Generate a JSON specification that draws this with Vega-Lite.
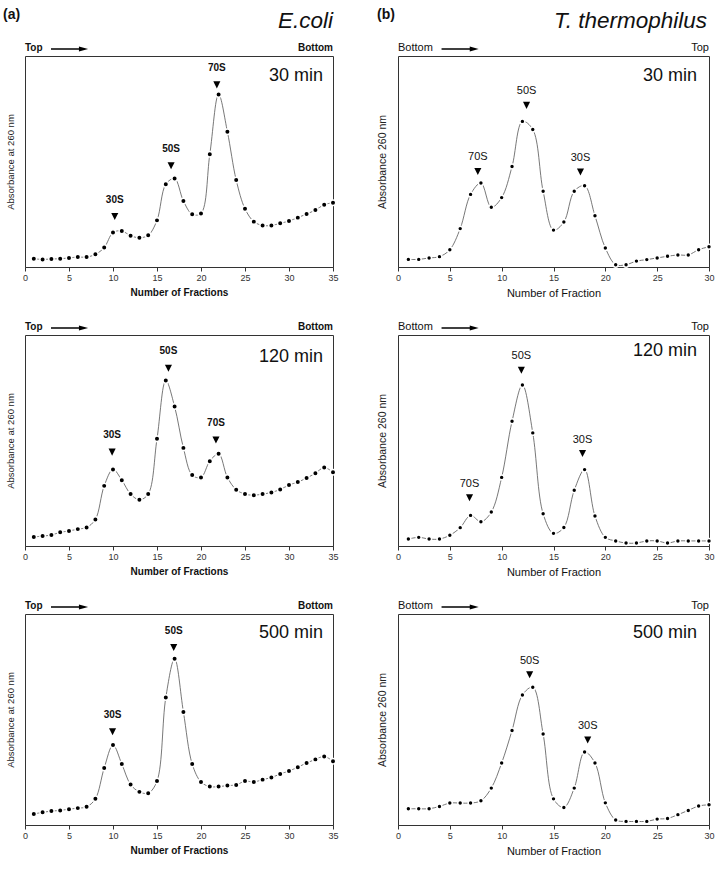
{
"$schema":"https://vega.github.io/schema/vega-lite/v6.json",
"padding":{"left":2,"top":7,"right":5,"bottom":5},
"config":{"font":"Liberation Sans","view":{"stroke":"#333","strokeWidth":1},
 "axisX":{"grid":false,"tickSize":4,"labelFontSize":9,"labelColor":"#333","labelPadding":2,"labelFlush":false,"domainColor":"#333","tickColor":"#333","titleColor":"#111","titlePadding":5},
 "axisY":{"grid":false,"labels":false,"ticks":false,"domain":false,"titleColor":"#222","titleFontWeight":"normal","titlePadding":10}},
"datasets":{
"profiles":[
{"panel":"a30","fraction":1,"abs":3.9},{"panel":"a30","fraction":2,"abs":3.6},{"panel":"a30","fraction":3,"abs":3.8},{"panel":"a30","fraction":4,"abs":3.9},{"panel":"a30","fraction":5,"abs":4.3},{"panel":"a30","fraction":6,"abs":4.7},{"panel":"a30","fraction":7,"abs":4.7},{"panel":"a30","fraction":8,"abs":6.0},{"panel":"a30","fraction":9,"abs":9.2},{"panel":"a30","fraction":10,"abs":16.3},{"panel":"a30","fraction":11,"abs":17.1},{"panel":"a30","fraction":12,"abs":14.8},{"panel":"a30","fraction":13,"abs":13.9},{"panel":"a30","fraction":14,"abs":15.0},{"panel":"a30","fraction":15,"abs":22.1},{"panel":"a30","fraction":16,"abs":39.2},{"panel":"a30","fraction":17,"abs":41.9},{"panel":"a30","fraction":18,"abs":31.3},{"panel":"a30","fraction":19,"abs":25.0},{"panel":"a30","fraction":20,"abs":25.4},{"panel":"a30","fraction":21,"abs":53.4},{"panel":"a30","fraction":22,"abs":81.8},{"panel":"a30","fraction":23,"abs":64.1},{"panel":"a30","fraction":24,"abs":41.2},{"panel":"a30","fraction":25,"abs":27.6},{"panel":"a30","fraction":26,"abs":21.5},{"panel":"a30","fraction":27,"abs":19.7},{"panel":"a30","fraction":28,"abs":19.7},{"panel":"a30","fraction":29,"abs":20.7},{"panel":"a30","fraction":30,"abs":21.8},{"panel":"a30","fraction":31,"abs":23.4},{"panel":"a30","fraction":32,"abs":25.1},{"panel":"a30","fraction":33,"abs":27.0},{"panel":"a30","fraction":34,"abs":29.5},{"panel":"a30","fraction":35,"abs":30.5},
{"panel":"b30","fraction":1,"abs":3.6},{"panel":"b30","fraction":2,"abs":3.6},{"panel":"b30","fraction":3,"abs":4.3},{"panel":"b30","fraction":4,"abs":4.9},{"panel":"b30","fraction":5,"abs":8.2},{"panel":"b30","fraction":6,"abs":18.2},{"panel":"b30","fraction":7,"abs":34.4},{"panel":"b30","fraction":8,"abs":39.8},{"panel":"b30","fraction":9,"abs":28.3},{"panel":"b30","fraction":10,"abs":32.9},{"panel":"b30","fraction":11,"abs":47.6},{"panel":"b30","fraction":12,"abs":69.0},{"panel":"b30","fraction":13,"abs":65.2},{"panel":"b30","fraction":14,"abs":35.9},{"panel":"b30","fraction":15,"abs":17.5},{"panel":"b30","fraction":16,"abs":21.3},{"panel":"b30","fraction":17,"abs":35.9},{"panel":"b30","fraction":18,"abs":38.5},{"panel":"b30","fraction":19,"abs":24.3},{"panel":"b30","fraction":20,"abs":9.0},{"panel":"b30","fraction":21,"abs":1.1},{"panel":"b30","fraction":22,"abs":1.1},{"panel":"b30","fraction":23,"abs":2.8},{"panel":"b30","fraction":24,"abs":3.5},{"panel":"b30","fraction":25,"abs":4.3},{"panel":"b30","fraction":26,"abs":5.1},{"panel":"b30","fraction":27,"abs":5.7},{"panel":"b30","fraction":28,"abs":5.7},{"panel":"b30","fraction":29,"abs":8.2},{"panel":"b30","fraction":30,"abs":9.6},
{"panel":"a120","fraction":1,"abs":4.3},{"panel":"a120","fraction":2,"abs":4.7},{"panel":"a120","fraction":3,"abs":5.2},{"panel":"a120","fraction":4,"abs":6.5},{"panel":"a120","fraction":5,"abs":7.1},{"panel":"a120","fraction":6,"abs":8.0},{"panel":"a120","fraction":7,"abs":8.8},{"panel":"a120","fraction":8,"abs":12.6},{"panel":"a120","fraction":9,"abs":28.5},{"panel":"a120","fraction":10,"abs":36.3},{"panel":"a120","fraction":11,"abs":31.2},{"panel":"a120","fraction":12,"abs":24.6},{"panel":"a120","fraction":13,"abs":21.9},{"panel":"a120","fraction":14,"abs":24.6},{"panel":"a120","fraction":15,"abs":50.8},{"panel":"a120","fraction":16,"abs":78.4},{"panel":"a120","fraction":17,"abs":66.1},{"panel":"a120","fraction":18,"abs":46.5},{"panel":"a120","fraction":19,"abs":33.6},{"panel":"a120","fraction":20,"abs":32.5},{"panel":"a120","fraction":21,"abs":40.2},{"panel":"a120","fraction":22,"abs":43.7},{"panel":"a120","fraction":23,"abs":32.5},{"panel":"a120","fraction":24,"abs":26.7},{"panel":"a120","fraction":25,"abs":24.6},{"panel":"a120","fraction":26,"abs":24.1},{"panel":"a120","fraction":27,"abs":24.6},{"panel":"a120","fraction":28,"abs":25.4},{"panel":"a120","fraction":29,"abs":26.8},{"panel":"a120","fraction":30,"abs":28.9},{"panel":"a120","fraction":31,"abs":30.3},{"panel":"a120","fraction":32,"abs":32.2},{"panel":"a120","fraction":33,"abs":34.5},{"panel":"a120","fraction":34,"abs":37.2},{"panel":"a120","fraction":35,"abs":34.9},
{"panel":"b120","fraction":1,"abs":3.3},{"panel":"b120","fraction":2,"abs":4.1},{"panel":"b120","fraction":3,"abs":3.3},{"panel":"b120","fraction":4,"abs":3.3},{"panel":"b120","fraction":5,"abs":5.1},{"panel":"b120","fraction":6,"abs":8.7},{"panel":"b120","fraction":7,"abs":14.5},{"panel":"b120","fraction":8,"abs":11.5},{"panel":"b120","fraction":9,"abs":16.1},{"panel":"b120","fraction":10,"abs":32.5},{"panel":"b120","fraction":11,"abs":59.1},{"panel":"b120","fraction":12,"abs":76.3},{"panel":"b120","fraction":13,"abs":53.6},{"panel":"b120","fraction":14,"abs":15.3},{"panel":"b120","fraction":15,"abs":6.0},{"panel":"b120","fraction":16,"abs":8.8},{"panel":"b120","fraction":17,"abs":26.4},{"panel":"b120","fraction":18,"abs":36.2},{"panel":"b120","fraction":19,"abs":14.2},{"panel":"b120","fraction":20,"abs":4.1},{"panel":"b120","fraction":21,"abs":2.4},{"panel":"b120","fraction":22,"abs":1.4},{"panel":"b120","fraction":23,"abs":1.4},{"panel":"b120","fraction":24,"abs":2.4},{"panel":"b120","fraction":25,"abs":2.4},{"panel":"b120","fraction":26,"abs":1.4},{"panel":"b120","fraction":27,"abs":2.4},{"panel":"b120","fraction":28,"abs":2.4},{"panel":"b120","fraction":29,"abs":2.4},{"panel":"b120","fraction":30,"abs":2.4},
{"panel":"a500","fraction":1,"abs":5.2},{"panel":"a500","fraction":2,"abs":6.0},{"panel":"a500","fraction":3,"abs":6.6},{"panel":"a500","fraction":4,"abs":6.9},{"panel":"a500","fraction":5,"abs":7.5},{"panel":"a500","fraction":6,"abs":8.0},{"panel":"a500","fraction":7,"abs":8.6},{"panel":"a500","fraction":8,"abs":12.4},{"panel":"a500","fraction":9,"abs":27.0},{"panel":"a500","fraction":10,"abs":37.9},{"panel":"a500","fraction":11,"abs":28.9},{"panel":"a500","fraction":12,"abs":19.2},{"panel":"a500","fraction":13,"abs":15.7},{"panel":"a500","fraction":14,"abs":15.1},{"panel":"a500","fraction":15,"abs":20.8},{"panel":"a500","fraction":16,"abs":60.4},{"panel":"a500","fraction":17,"abs":78.8},{"panel":"a500","fraction":18,"abs":53.6},{"panel":"a500","fraction":19,"abs":28.9},{"panel":"a500","fraction":20,"abs":20.4},{"panel":"a500","fraction":21,"abs":18.2},{"panel":"a500","fraction":22,"abs":18.2},{"panel":"a500","fraction":23,"abs":18.7},{"panel":"a500","fraction":24,"abs":19.0},{"panel":"a500","fraction":25,"abs":20.8},{"panel":"a500","fraction":26,"abs":20.4},{"panel":"a500","fraction":27,"abs":21.5},{"panel":"a500","fraction":28,"abs":22.5},{"panel":"a500","fraction":29,"abs":24.2},{"panel":"a500","fraction":30,"abs":25.6},{"panel":"a500","fraction":31,"abs":27.4},{"panel":"a500","fraction":32,"abs":29.4},{"panel":"a500","fraction":33,"abs":31.1},{"panel":"a500","fraction":34,"abs":32.5},{"panel":"a500","fraction":35,"abs":30.2},
{"panel":"b500","fraction":1,"abs":7.7},{"panel":"b500","fraction":2,"abs":7.7},{"panel":"b500","fraction":3,"abs":7.7},{"panel":"b500","fraction":4,"abs":8.8},{"panel":"b500","fraction":5,"abs":10.4},{"panel":"b500","fraction":6,"abs":10.4},{"panel":"b500","fraction":7,"abs":10.4},{"panel":"b500","fraction":8,"abs":11.5},{"panel":"b500","fraction":9,"abs":17.5},{"panel":"b500","fraction":10,"abs":29.4},{"panel":"b500","fraction":11,"abs":44.8},{"panel":"b500","fraction":12,"abs":61.6},{"panel":"b500","fraction":13,"abs":65.3},{"panel":"b500","fraction":14,"abs":43.1},{"panel":"b500","fraction":15,"abs":12.4},{"panel":"b500","fraction":16,"abs":8.3},{"panel":"b500","fraction":17,"abs":17.5},{"panel":"b500","fraction":18,"abs":34.6},{"panel":"b500","fraction":19,"abs":29.4},{"panel":"b500","fraction":20,"abs":10.5},{"panel":"b500","fraction":21,"abs":2.4},{"panel":"b500","fraction":22,"abs":1.7},{"panel":"b500","fraction":23,"abs":1.7},{"panel":"b500","fraction":24,"abs":1.7},{"panel":"b500","fraction":25,"abs":2.8},{"panel":"b500","fraction":26,"abs":3.1},{"panel":"b500","fraction":27,"abs":4.9},{"panel":"b500","fraction":28,"abs":6.9},{"panel":"b500","fraction":29,"abs":9.0},{"panel":"b500","fraction":30,"abs":9.6}
],
"peaks":[
{"panel":"a30","peak":"30S","fraction":10.2,"abs":23.9},{"panel":"a30","peak":"50S","fraction":16.6,"abs":48.0},{"panel":"a30","peak":"70S","fraction":21.8,"abs":86.3},
{"panel":"b30","peak":"70S","fraction":7.7,"abs":45.3},{"panel":"b30","peak":"50S","fraction":12.4,"abs":76.6},{"panel":"b30","peak":"30S","fraction":17.6,"abs":45.0},
{"panel":"a120","peak":"30S","fraction":9.9,"abs":44.5},{"panel":"a120","peak":"50S","fraction":16.3,"abs":84.2},{"panel":"a120","peak":"70S","fraction":21.7,"abs":50.2},
{"panel":"b120","peak":"70S","fraction":6.9,"abs":22.9},{"panel":"b120","peak":"50S","fraction":11.9,"abs":83.3},{"panel":"b120","peak":"30S","fraction":17.8,"abs":43.8},
{"panel":"a500","peak":"30S","fraction":9.95,"abs":44.2},{"panel":"a500","peak":"50S","fraction":16.9,"abs":84.1},
{"panel":"b500","peak":"50S","fraction":12.7,"abs":71.2},{"panel":"b500","peak":"30S","fraction":18.3,"abs":40.3}
],
"frames":[
{"panel":"a30","left":"Top","right":"Bottom","time":"30 min"},
{"panel":"b30","left":"Bottom","right":"Top","time":"30 min"},
{"panel":"a120","left":"Top","right":"Bottom","time":"120 min"},
{"panel":"b120","left":"Bottom","right":"Top","time":"120 min"},
{"panel":"a500","left":"Top","right":"Bottom","time":"500 min"},
{"panel":"b500","left":"Bottom","right":"Top","time":"500 min"}
],
"headings":[
{"column":"a","tag":"(a)","organism":"E.coli"},
{"column":"b","tag":"(b)","organism":"T. thermophilus"}
]
},
"columns":2,
"bounds":"flush",
"spacing":{"row":68,"column":65},
"concat":[
{"width":308,"height":211,
 "encoding":{"x":{"type":"quantitative","scale":{"domain":[0,35],"nice":false,"zero":false},"axis":{"title":"Number of Fractions","values":[0,5,10,15,20,25,30,35],"titleFontWeight":"bold","titleFontSize":10}},
  "y":{"type":"quantitative","scale":{"domain":[0,100],"nice":false},"axis":{"title":"Absorbance at 260 nm","titleFontSize":9.5}}},
 "layer":[
  {"data":{"name":"profiles"},"transform":[{"filter":"datum.panel==='a30'"}],"mark":{"type":"line","interpolate":"catmull-rom","color":"#555","strokeWidth":0.8},"encoding":{"x":{"field":"fraction"},"y":{"field":"abs"}}},
  {"data":{"name":"profiles"},"transform":[{"filter":"datum.panel==='a30'"}],"mark":{"type":"point","shape":"circle","filled":true,"size":30,"fill":"#000","stroke":"#fff","strokeWidth":1.5,"opacity":1},"encoding":{"x":{"field":"fraction"},"y":{"field":"abs"}}},
  {"data":{"name":"peaks"},"transform":[{"filter":"datum.panel==='a30'"}],"mark":{"type":"point","shape":"M-1,-1L1,-1L0,1Z","filled":true,"size":50,"color":"#000","opacity":1},"encoding":{"x":{"field":"fraction"},"y":{"field":"abs"}}},
  {"data":{"name":"peaks"},"transform":[{"filter":"datum.panel==='a30'"}],"mark":{"type":"text","dy":-17,"fontWeight":"bold","fontSize":10,"color":"#111"},"encoding":{"x":{"field":"fraction"},"y":{"field":"abs"},"text":{"field":"peak"}}},
  {"data":{"name":"frames"},"transform":[{"filter":"datum.panel==='a30'"}],"mark":{"type":"text","align":"left","baseline":"alphabetic","dy":-5,"fontWeight":"bold","fontSize":10,"color":"#111"},"encoding":{"x":{"datum":0},"y":{"datum":100},"text":{"field":"left"}}},
  {"data":{"name":"frames"},"transform":[{"filter":"datum.panel==='a30'"}],"mark":{"type":"text","align":"right","baseline":"alphabetic","dy":-5,"fontWeight":"bold","fontSize":10,"color":"#111"},"encoding":{"x":{"datum":35},"y":{"datum":100},"text":{"field":"right"}}},
  {"data":{"name":"frames"},"transform":[{"filter":"datum.panel==='a30'"}],"mark":{"type":"text","align":"right","baseline":"alphabetic","dx":-10,"dy":25,"fontSize":18,"color":"#111"},"encoding":{"x":{"datum":35},"y":{"datum":100},"text":{"field":"time"}}},
  {"data":{"name":"frames"},"transform":[{"filter":"datum.panel==='a30'"}],"mark":{"type":"rule","strokeWidth":1.5,"color":"#000","yOffset":-7},"encoding":{"x":{"datum":2.95},"x2":{"datum":6.4},"y":{"datum":100}}},
  {"data":{"name":"frames"},"transform":[{"filter":"datum.panel==='a30'"}],"mark":{"type":"point","shape":"M-1,-0.55L1,0L-1,0.55Z","filled":true,"size":85,"color":"#000","opacity":1,"yOffset":-7},"encoding":{"x":{"datum":6.65},"y":{"datum":100}}},
  {"data":{"name":"headings"},"transform":[{"filter":"datum.column==='a'"}],"mark":{"type":"text","align":"left","baseline":"alphabetic","dx":-22,"dy":-37,"fontWeight":"bold","fontSize":14,"color":"#111"},"encoding":{"x":{"datum":0},"y":{"datum":100},"text":{"field":"tag"}}},
  {"data":{"name":"headings"},"transform":[{"filter":"datum.column==='a'"}],"mark":{"type":"text","align":"right","baseline":"alphabetic","dy":-28,"fontStyle":"italic","fontSize":22.5,"color":"#111"},"encoding":{"x":{"datum":35},"y":{"datum":100},"text":{"field":"organism"}}}
 ]},
{"width":311,"height":211,
 "encoding":{"x":{"type":"quantitative","scale":{"domain":[0,30],"nice":false,"zero":false},"axis":{"title":"Number of Fraction","values":[0,5,10,15,20,25,30],"titleFontWeight":"normal","titleFontSize":11}},
  "y":{"type":"quantitative","scale":{"domain":[0,100],"nice":false},"axis":{"title":"Absorbance 260 nm","titleFontSize":10.5,"titlePadding":11}}},
 "layer":[
  {"data":{"name":"profiles"},"transform":[{"filter":"datum.panel==='b30'"}],"mark":{"type":"line","interpolate":"catmull-rom","color":"#555","strokeWidth":0.8},"encoding":{"x":{"field":"fraction"},"y":{"field":"abs"}}},
  {"data":{"name":"profiles"},"transform":[{"filter":"datum.panel==='b30'"}],"mark":{"type":"point","shape":"circle","filled":true,"size":24,"fill":"#000","stroke":"#fff","strokeWidth":1.5,"opacity":1},"encoding":{"x":{"field":"fraction"},"y":{"field":"abs"}}},
  {"data":{"name":"peaks"},"transform":[{"filter":"datum.panel==='b30'"}],"mark":{"type":"point","shape":"M-1,-1L1,-1L0,1Z","filled":true,"size":50,"color":"#000","opacity":1},"encoding":{"x":{"field":"fraction"},"y":{"field":"abs"}}},
  {"data":{"name":"peaks"},"transform":[{"filter":"datum.panel==='b30'"}],"mark":{"type":"text","dy":-14,"fontSize":11,"color":"#111"},"encoding":{"x":{"field":"fraction"},"y":{"field":"abs"},"text":{"field":"peak"}}},
  {"data":{"name":"frames"},"transform":[{"filter":"datum.panel==='b30'"}],"mark":{"type":"text","align":"left","baseline":"alphabetic","dy":-5,"fontSize":11,"color":"#111"},"encoding":{"x":{"datum":0},"y":{"datum":100},"text":{"field":"left"}}},
  {"data":{"name":"frames"},"transform":[{"filter":"datum.panel==='b30'"}],"mark":{"type":"text","align":"right","baseline":"alphabetic","dy":-5,"fontSize":11,"color":"#111"},"encoding":{"x":{"datum":30},"y":{"datum":100},"text":{"field":"right"}}},
  {"data":{"name":"frames"},"transform":[{"filter":"datum.panel==='b30'"}],"mark":{"type":"text","align":"right","baseline":"alphabetic","dx":-12,"dy":25,"fontSize":18,"color":"#111"},"encoding":{"x":{"datum":30},"y":{"datum":100},"text":{"field":"time"}}},
  {"data":{"name":"frames"},"transform":[{"filter":"datum.panel==='b30'"}],"mark":{"type":"rule","strokeWidth":1.5,"color":"#000","yOffset":-7},"encoding":{"x":{"datum":4.2},"x2":{"datum":7.1},"y":{"datum":100}}},
  {"data":{"name":"frames"},"transform":[{"filter":"datum.panel==='b30'"}],"mark":{"type":"point","shape":"M-1,-0.55L1,0L-1,0.55Z","filled":true,"size":80,"color":"#000","opacity":1,"yOffset":-7},"encoding":{"x":{"datum":7.35},"y":{"datum":100}}},
  {"data":{"name":"headings"},"transform":[{"filter":"datum.column==='b'"}],"mark":{"type":"text","align":"left","baseline":"alphabetic","dx":-21,"dy":-37,"fontWeight":"bold","fontSize":14,"color":"#111"},"encoding":{"x":{"datum":0},"y":{"datum":100},"text":{"field":"tag"}}},
  {"data":{"name":"headings"},"transform":[{"filter":"datum.column==='b'"}],"mark":{"type":"text","align":"right","baseline":"alphabetic","dx":-2,"dy":-28,"fontStyle":"italic","fontSize":22.5,"color":"#111"},"encoding":{"x":{"datum":30},"y":{"datum":100},"text":{"field":"organism"}}}
 ]},
{"width":308,"height":211,
 "encoding":{"x":{"type":"quantitative","scale":{"domain":[0,35],"nice":false,"zero":false},"axis":{"title":"Number of Fractions","values":[0,5,10,15,20,25,30,35],"titleFontWeight":"bold","titleFontSize":10}},
  "y":{"type":"quantitative","scale":{"domain":[0,100],"nice":false},"axis":{"title":"Absorbance at 260 nm","titleFontSize":9.5}}},
 "layer":[
  {"data":{"name":"profiles"},"transform":[{"filter":"datum.panel==='a120'"}],"mark":{"type":"line","interpolate":"catmull-rom","color":"#555","strokeWidth":0.8},"encoding":{"x":{"field":"fraction"},"y":{"field":"abs"}}},
  {"data":{"name":"profiles"},"transform":[{"filter":"datum.panel==='a120'"}],"mark":{"type":"point","shape":"circle","filled":true,"size":30,"fill":"#000","stroke":"#fff","strokeWidth":1.5,"opacity":1},"encoding":{"x":{"field":"fraction"},"y":{"field":"abs"}}},
  {"data":{"name":"peaks"},"transform":[{"filter":"datum.panel==='a120'"}],"mark":{"type":"point","shape":"M-1,-1L1,-1L0,1Z","filled":true,"size":50,"color":"#000","opacity":1},"encoding":{"x":{"field":"fraction"},"y":{"field":"abs"}}},
  {"data":{"name":"peaks"},"transform":[{"filter":"datum.panel==='a120'"}],"mark":{"type":"text","dy":-17,"fontWeight":"bold","fontSize":10,"color":"#111"},"encoding":{"x":{"field":"fraction"},"y":{"field":"abs"},"text":{"field":"peak"}}},
  {"data":{"name":"frames"},"transform":[{"filter":"datum.panel==='a120'"}],"mark":{"type":"text","align":"left","baseline":"alphabetic","dy":-5,"fontWeight":"bold","fontSize":10,"color":"#111"},"encoding":{"x":{"datum":0},"y":{"datum":100},"text":{"field":"left"}}},
  {"data":{"name":"frames"},"transform":[{"filter":"datum.panel==='a120'"}],"mark":{"type":"text","align":"right","baseline":"alphabetic","dy":-5,"fontWeight":"bold","fontSize":10,"color":"#111"},"encoding":{"x":{"datum":35},"y":{"datum":100},"text":{"field":"right"}}},
  {"data":{"name":"frames"},"transform":[{"filter":"datum.panel==='a120'"}],"mark":{"type":"text","align":"right","baseline":"alphabetic","dx":-10,"dy":27,"fontSize":18,"color":"#111"},"encoding":{"x":{"datum":35},"y":{"datum":100},"text":{"field":"time"}}},
  {"data":{"name":"frames"},"transform":[{"filter":"datum.panel==='a120'"}],"mark":{"type":"rule","strokeWidth":1.5,"color":"#000","yOffset":-7},"encoding":{"x":{"datum":2.95},"x2":{"datum":6.4},"y":{"datum":100}}},
  {"data":{"name":"frames"},"transform":[{"filter":"datum.panel==='a120'"}],"mark":{"type":"point","shape":"M-1,-0.55L1,0L-1,0.55Z","filled":true,"size":85,"color":"#000","opacity":1,"yOffset":-7},"encoding":{"x":{"datum":6.65},"y":{"datum":100}}}
 ]},
{"width":311,"height":211,
 "encoding":{"x":{"type":"quantitative","scale":{"domain":[0,30],"nice":false,"zero":false},"axis":{"title":"Number of Fraction","values":[0,5,10,15,20,25,30],"titleFontWeight":"normal","titleFontSize":11}},
  "y":{"type":"quantitative","scale":{"domain":[0,100],"nice":false},"axis":{"title":"Absorbance 260 nm","titleFontSize":10.5,"titlePadding":11}}},
 "layer":[
  {"data":{"name":"profiles"},"transform":[{"filter":"datum.panel==='b120'"}],"mark":{"type":"line","interpolate":"catmull-rom","color":"#555","strokeWidth":0.8},"encoding":{"x":{"field":"fraction"},"y":{"field":"abs"}}},
  {"data":{"name":"profiles"},"transform":[{"filter":"datum.panel==='b120'"}],"mark":{"type":"point","shape":"circle","filled":true,"size":24,"fill":"#000","stroke":"#fff","strokeWidth":1.5,"opacity":1},"encoding":{"x":{"field":"fraction"},"y":{"field":"abs"}}},
  {"data":{"name":"peaks"},"transform":[{"filter":"datum.panel==='b120'"}],"mark":{"type":"point","shape":"M-1,-1L1,-1L0,1Z","filled":true,"size":50,"color":"#000","opacity":1},"encoding":{"x":{"field":"fraction"},"y":{"field":"abs"}}},
  {"data":{"name":"peaks"},"transform":[{"filter":"datum.panel==='b120'"}],"mark":{"type":"text","dy":-14,"fontSize":11,"color":"#111"},"encoding":{"x":{"field":"fraction"},"y":{"field":"abs"},"text":{"field":"peak"}}},
  {"data":{"name":"frames"},"transform":[{"filter":"datum.panel==='b120'"}],"mark":{"type":"text","align":"left","baseline":"alphabetic","dy":-5,"fontSize":11,"color":"#111"},"encoding":{"x":{"datum":0},"y":{"datum":100},"text":{"field":"left"}}},
  {"data":{"name":"frames"},"transform":[{"filter":"datum.panel==='b120'"}],"mark":{"type":"text","align":"right","baseline":"alphabetic","dy":-5,"fontSize":11,"color":"#111"},"encoding":{"x":{"datum":30},"y":{"datum":100},"text":{"field":"right"}}},
  {"data":{"name":"frames"},"transform":[{"filter":"datum.panel==='b120'"}],"mark":{"type":"text","align":"right","baseline":"alphabetic","dx":-12,"dy":21,"fontSize":18,"color":"#111"},"encoding":{"x":{"datum":30},"y":{"datum":100},"text":{"field":"time"}}},
  {"data":{"name":"frames"},"transform":[{"filter":"datum.panel==='b120'"}],"mark":{"type":"rule","strokeWidth":1.5,"color":"#000","yOffset":-7},"encoding":{"x":{"datum":4.2},"x2":{"datum":7.1},"y":{"datum":100}}},
  {"data":{"name":"frames"},"transform":[{"filter":"datum.panel==='b120'"}],"mark":{"type":"point","shape":"M-1,-0.55L1,0L-1,0.55Z","filled":true,"size":80,"color":"#000","opacity":1,"yOffset":-7},"encoding":{"x":{"datum":7.35},"y":{"datum":100}}}
 ]},
{"width":308,"height":211,
 "encoding":{"x":{"type":"quantitative","scale":{"domain":[0,35],"nice":false,"zero":false},"axis":{"title":"Number of Fractions","values":[0,5,10,15,20,25,30,35],"titleFontWeight":"bold","titleFontSize":10}},
  "y":{"type":"quantitative","scale":{"domain":[0,100],"nice":false},"axis":{"title":"Absorbance at 260 nm","titleFontSize":9.5}}},
 "layer":[
  {"data":{"name":"profiles"},"transform":[{"filter":"datum.panel==='a500'"}],"mark":{"type":"line","interpolate":"catmull-rom","color":"#555","strokeWidth":0.8},"encoding":{"x":{"field":"fraction"},"y":{"field":"abs"}}},
  {"data":{"name":"profiles"},"transform":[{"filter":"datum.panel==='a500'"}],"mark":{"type":"point","shape":"circle","filled":true,"size":30,"fill":"#000","stroke":"#fff","strokeWidth":1.5,"opacity":1},"encoding":{"x":{"field":"fraction"},"y":{"field":"abs"}}},
  {"data":{"name":"peaks"},"transform":[{"filter":"datum.panel==='a500'"}],"mark":{"type":"point","shape":"M-1,-1L1,-1L0,1Z","filled":true,"size":50,"color":"#000","opacity":1},"encoding":{"x":{"field":"fraction"},"y":{"field":"abs"}}},
  {"data":{"name":"peaks"},"transform":[{"filter":"datum.panel==='a500'"}],"mark":{"type":"text","dy":-17,"fontWeight":"bold","fontSize":10,"color":"#111"},"encoding":{"x":{"field":"fraction"},"y":{"field":"abs"},"text":{"field":"peak"}}},
  {"data":{"name":"frames"},"transform":[{"filter":"datum.panel==='a500'"}],"mark":{"type":"text","align":"left","baseline":"alphabetic","dy":-5,"fontWeight":"bold","fontSize":10,"color":"#111"},"encoding":{"x":{"datum":0},"y":{"datum":100},"text":{"field":"left"}}},
  {"data":{"name":"frames"},"transform":[{"filter":"datum.panel==='a500'"}],"mark":{"type":"text","align":"right","baseline":"alphabetic","dy":-5,"fontWeight":"bold","fontSize":10,"color":"#111"},"encoding":{"x":{"datum":35},"y":{"datum":100},"text":{"field":"right"}}},
  {"data":{"name":"frames"},"transform":[{"filter":"datum.panel==='a500'"}],"mark":{"type":"text","align":"right","baseline":"alphabetic","dx":-10,"dy":24,"fontSize":18,"color":"#111"},"encoding":{"x":{"datum":35},"y":{"datum":100},"text":{"field":"time"}}},
  {"data":{"name":"frames"},"transform":[{"filter":"datum.panel==='a500'"}],"mark":{"type":"rule","strokeWidth":1.5,"color":"#000","yOffset":-7},"encoding":{"x":{"datum":2.95},"x2":{"datum":6.4},"y":{"datum":100}}},
  {"data":{"name":"frames"},"transform":[{"filter":"datum.panel==='a500'"}],"mark":{"type":"point","shape":"M-1,-0.55L1,0L-1,0.55Z","filled":true,"size":85,"color":"#000","opacity":1,"yOffset":-7},"encoding":{"x":{"datum":6.65},"y":{"datum":100}}}
 ]},
{"width":311,"height":211,
 "encoding":{"x":{"type":"quantitative","scale":{"domain":[0,30],"nice":false,"zero":false},"axis":{"title":"Number of Fraction","values":[0,5,10,15,20,25,30],"titleFontWeight":"normal","titleFontSize":11}},
  "y":{"type":"quantitative","scale":{"domain":[0,100],"nice":false},"axis":{"title":"Absorbance 260 nm","titleFontSize":10.5,"titlePadding":11}}},
 "layer":[
  {"data":{"name":"profiles"},"transform":[{"filter":"datum.panel==='b500'"}],"mark":{"type":"line","interpolate":"catmull-rom","color":"#555","strokeWidth":0.8},"encoding":{"x":{"field":"fraction"},"y":{"field":"abs"}}},
  {"data":{"name":"profiles"},"transform":[{"filter":"datum.panel==='b500'"}],"mark":{"type":"point","shape":"circle","filled":true,"size":24,"fill":"#000","stroke":"#fff","strokeWidth":1.5,"opacity":1},"encoding":{"x":{"field":"fraction"},"y":{"field":"abs"}}},
  {"data":{"name":"peaks"},"transform":[{"filter":"datum.panel==='b500'"}],"mark":{"type":"point","shape":"M-1,-1L1,-1L0,1Z","filled":true,"size":50,"color":"#000","opacity":1},"encoding":{"x":{"field":"fraction"},"y":{"field":"abs"}}},
  {"data":{"name":"peaks"},"transform":[{"filter":"datum.panel==='b500'"}],"mark":{"type":"text","dy":-14,"fontSize":11,"color":"#111"},"encoding":{"x":{"field":"fraction"},"y":{"field":"abs"},"text":{"field":"peak"}}},
  {"data":{"name":"frames"},"transform":[{"filter":"datum.panel==='b500'"}],"mark":{"type":"text","align":"left","baseline":"alphabetic","dy":-5,"fontSize":11,"color":"#111"},"encoding":{"x":{"datum":0},"y":{"datum":100},"text":{"field":"left"}}},
  {"data":{"name":"frames"},"transform":[{"filter":"datum.panel==='b500'"}],"mark":{"type":"text","align":"right","baseline":"alphabetic","dy":-5,"fontSize":11,"color":"#111"},"encoding":{"x":{"datum":30},"y":{"datum":100},"text":{"field":"right"}}},
  {"data":{"name":"frames"},"transform":[{"filter":"datum.panel==='b500'"}],"mark":{"type":"text","align":"right","baseline":"alphabetic","dx":-12,"dy":24,"fontSize":18,"color":"#111"},"encoding":{"x":{"datum":30},"y":{"datum":100},"text":{"field":"time"}}},
  {"data":{"name":"frames"},"transform":[{"filter":"datum.panel==='b500'"}],"mark":{"type":"rule","strokeWidth":1.5,"color":"#000","yOffset":-7},"encoding":{"x":{"datum":4.2},"x2":{"datum":7.1},"y":{"datum":100}}},
  {"data":{"name":"frames"},"transform":[{"filter":"datum.panel==='b500'"}],"mark":{"type":"point","shape":"M-1,-0.55L1,0L-1,0.55Z","filled":true,"size":80,"color":"#000","opacity":1,"yOffset":-7},"encoding":{"x":{"datum":7.35},"y":{"datum":100}}}
 ]}
]
}
